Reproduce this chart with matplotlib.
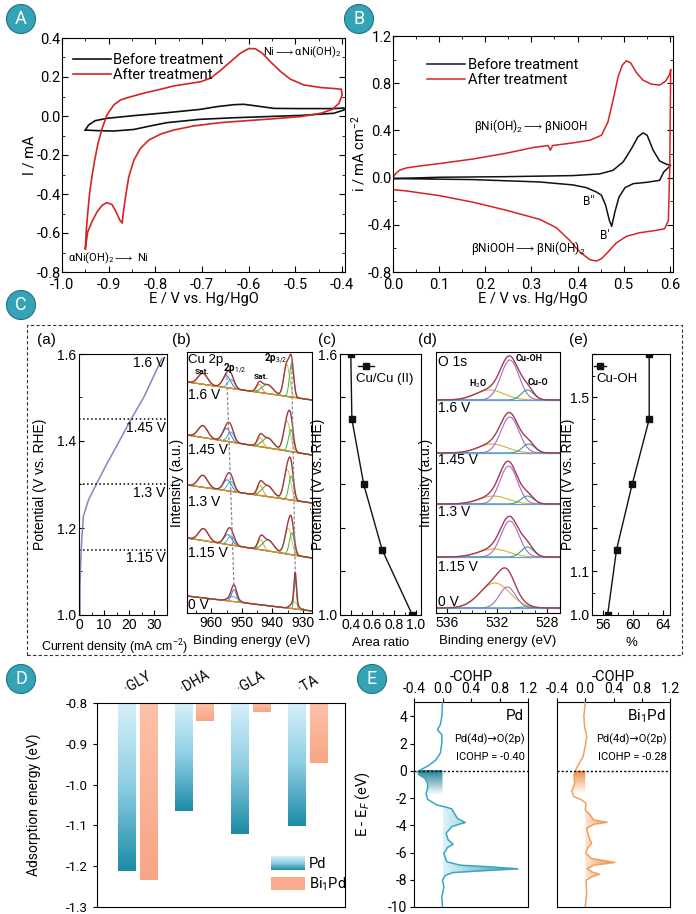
import numpy as np
import matplotlib
matplotlib.use("Agg")
import matplotlib.pyplot as plt
from matplotlib.patches import Ellipse, Rectangle, Patch
from matplotlib.colors import LinearSegmentedColormap
from matplotlib.path import Path
from matplotlib.legend_handler import HandlerBase
from matplotlib.image import BboxImage
from matplotlib.transforms import Bbox, TransformedBbox, blended_transform_factory
from matplotlib.ticker import MultipleLocator, FixedLocator, FixedFormatter

plt.rcParams['font.family'] = ['Roboto', 'DejaVu Sans']
plt.rcParams['mathtext.fontset'] = 'custom'
plt.rcParams['mathtext.rm'] = 'Roboto'
plt.rcParams['mathtext.it'] = 'Roboto:italic'
plt.rcParams['mathtext.bf'] = 'Roboto:bold'
plt.rcParams['mathtext.fallback'] = 'stixsans'
plt.rcParams['axes.unicode_minus'] = False

W, H = 696, 914
FC = ['Liberation Sans', 'DejaVu Sans']   # panel C looks like Arial

# ---------------- A : CV of Ni foam
a_before_E = [-0.950, -0.943, -0.929, -0.904, -0.846, -0.775, -0.704, -0.668, -0.632, -0.611,
              -0.582, -0.546, -0.489, -0.418, -0.396, -0.396, -0.418, -0.489, -0.561, -0.632,
              -0.704, -0.775, -0.811, -0.846, -0.889, -0.925, -0.950]
a_before_I = [-0.072, -0.046, -0.024, -0.012, 0.002, 0.017, 0.034, 0.048, 0.058, 0.060,
              0.051, 0.039, 0.038, 0.038, 0.041, 0.031, 0.014, 0.003, -0.003, -0.009,
              -0.017, -0.034, -0.051, -0.069, -0.077, -0.075, -0.072]
a_after_E = [-0.950, -0.948, -0.945, -0.941, -0.936, -0.930, -0.923, -0.914, -0.904, -0.889,
             -0.875, -0.857, -0.825, -0.789, -0.761, -0.732, -0.704, -0.682, -0.661, -0.639,
             -0.618, -0.600, -0.586, -0.571, -0.554, -0.532, -0.511, -0.482, -0.446, -0.418,
             -0.402, -0.400, -0.407, -0.421, -0.446, -0.489, -0.546, -0.604, -0.661, -0.718,
             -0.761, -0.789, -0.814, -0.832, -0.846, -0.857, -0.864, -0.869, -0.871, -0.876,
             -0.884, -0.893, -0.904, -0.914, -0.925, -0.936, -0.945, -0.950]
a_after_I = [-0.681, -0.586, -0.501, -0.398, -0.312, -0.226, -0.141, -0.063, 0.005, 0.057,
             0.082, 0.096, 0.117, 0.137, 0.154, 0.165, 0.175, 0.194, 0.233, 0.279,
             0.322, 0.346, 0.345, 0.322, 0.279, 0.228, 0.189, 0.159, 0.146, 0.141,
             0.137, 0.108, 0.065, 0.034, 0.014, -0.003, -0.014, -0.024, -0.034, -0.051,
             -0.072, -0.093, -0.123, -0.166, -0.226, -0.312, -0.415, -0.501, -0.549, -0.535,
             -0.492, -0.454, -0.444, -0.458, -0.492, -0.543, -0.595, -0.681]

# ---------------- B : CV in alkaline
b_before_E = [0.000, 0.101, 0.246, 0.390, 0.448, 0.477, 0.499, 0.517, 0.531, 0.542, 0.551,
              0.564, 0.578, 0.593, 0.602, 0.597, 0.587, 0.578, 0.550, 0.521, 0.503, 0.490,
              0.481, 0.474, 0.469, 0.461, 0.452, 0.441, 0.419, 0.390, 0.318, 0.174, 0.000]
b_before_i = [-0.008, 0.003, 0.008, 0.017, 0.031, 0.062, 0.133, 0.246, 0.345, 0.379, 0.359,
              0.232, 0.141, 0.113, 0.105, 0.085, 0.048, -0.023, -0.040, -0.051, -0.085, -0.164,
              -0.291, -0.413, -0.362, -0.235, -0.150, -0.122, -0.085, -0.062, -0.037, -0.017, -0.008]
b_after_E = [0.000, 0.006, 0.014, 0.029, 0.065, 0.101, 0.174, 0.246, 0.304, 0.336, 0.341,
             0.346, 0.390, 0.427, 0.452, 0.466, 0.477, 0.488, 0.497, 0.506, 0.515, 0.528,
             0.542, 0.560, 0.578, 0.591, 0.600, 0.602, 0.600, 0.597, 0.589, 0.571, 0.535,
             0.506, 0.484, 0.466, 0.452, 0.441, 0.427, 0.405, 0.383, 0.354, 0.318, 0.246,
             0.174, 0.101, 0.029, 0.000]
b_after_i = [0.000, 0.034, 0.062, 0.082, 0.102, 0.119, 0.158, 0.207, 0.255, 0.272, 0.232,
             0.272, 0.294, 0.317, 0.359, 0.472, 0.656, 0.854, 0.953, 0.990, 0.973, 0.888,
             0.826, 0.792, 0.784, 0.818, 0.877, 0.917, 0.091, -0.362, -0.433, -0.447, -0.467,
             -0.498, -0.554, -0.631, -0.687, -0.707, -0.696, -0.631, -0.532, -0.424, -0.354, -0.277,
             -0.209, -0.153, -0.113, -0.102]

# ---------------- C(a) : LSV
ca_j = [0.4, 0.4, 0.7, 1.1, 1.75, 3.8, 7.1, 11.2, 15.2, 20.6, 26.0, 33.0]
ca_E = [1.0, 1.065, 1.127, 1.173, 1.227, 1.265, 1.303, 1.349, 1.391, 1.449, 1.503, 1.59]
c_levels = [1.6, 1.45, 1.3, 1.15]
c_level_labels = ['1.6 V', '1.45 V', '1.3 V', '1.15 V']

# ---------------- C(b) : Cu 2p, peaks (centre eV, height, sigma) on a linear background
cu_labels = ['1.6 V', '1.45 V', '1.3 V', '1.15 V', '0 V']
cu_bg = [(231, 213), (178, 158), (128, 110), (75, 55), (17, 2)]   # at 968 eV / 927 eV
cu_peaks_16 = [(962.8, 11, 1.55), (955.0, 12, 1.3), (953.5, 9, 1.1), (944.3, 8, 0.9),
               (941.6, 9, 1.8), (935.3, 32, 0.95), (933.7, 33, 0.7)]
cu_peaks_145 = [(962.8, 12, 1.55), (955.0, 13, 1.3), (953.6, 10, 1.1), (944.0, 9, 0.9),
                (941.5, 10, 1.8), (935.2, 30, 1.1), (933.9, 22, 0.8)]
cu_peaks_13 = [(962.8, 12, 1.55), (954.8, 11, 1.3), (953.6, 10, 1.1), (944.0, 10, 0.9),
               (941.6, 11, 1.8), (935.1, 30, 1.1), (933.8, 24, 0.8)]
cu_peaks_115 = [(962.6, 12, 1.55), (954.6, 10, 1.3), (953.5, 9, 1.1), (943.8, 10, 0.9),
                (941.4, 11, 1.8), (934.8, 26, 1.1), (933.6, 22, 0.8)]
cu_peaks_0 = [(962.6, 0, 1.3), (952.6, 12, 0.8), (952.9, 5, 1.5), (943.8, 0, 0.8),
              (941.4, 0, 1.5), (932.8, 7, 1.1), (932.5, 30, 0.4)]

# ---------------- C(c) / C(e)
cc_ratio = [0.40, 0.41, 0.52, 0.69, 0.97]
cc_pot = [1.6, 1.45, 1.3, 1.15, 1.0]
ce_pct = [56.6, 57.8, 59.9, 62.2, 62.2]
ce_pot = [1.0, 1.15, 1.3, 1.45, 1.6]

# ---------------- C(d) : O 1s, peaks H2O, Cu-OH, Cu-O
o_labels = ['1.6 V', '1.45 V', '1.3 V', '1.15 V', '0 V']
o_bg = [213, 160, 109, 56, 5]
o_peaks_16 = [(532.6, 10, 1.15), (531.0, 40, 0.72), (529.6, 10, 0.5)]
o_peaks_145 = [(532.4, 9, 1.15), (531.0, 36, 0.72), (529.5, 9, 0.5)]
o_peaks_13 = [(532.3, 8, 1.15), (531.1, 38, 0.7), (529.6, 8, 0.5)]
o_peaks_115 = [(532.3, 8, 1.2), (531.0, 36, 0.72), (529.6, 10, 0.5)]
o_peaks_0 = [(532.2, 25, 1.2), (531.2, 21, 0.65), (529.8, 1, 0.5)]

# ---------------- D : adsorption energy
d_species = ['·GLY', '·DHA', '·GLA', '·TA']
d_pd = [-1.211, -1.064, -1.122, -1.102]
d_bipd = [-1.234, -0.845, -0.823, -0.946]

# ---------------- E : -COHP
pd_cohp = [0.00, -0.01, -0.03, -0.07, -0.01, -0.01, -0.03, -0.10, -0.20, -0.29, -0.35, -0.33,
           -0.25, -0.21, -0.21, -0.23, -0.21, -0.08, 0.06, 0.13, 0.18, 0.21, 0.29, 0.32, 0.25,
           0.13, 0.05, 0.08, 0.15, 0.07, 0.02, 0.06, 0.25, 0.67, 1.06, 0.53, 0.15, 0.04, 0.00,
           0.02, -0.01, 0.00]
pd_E = [5.0, 4.0, 3.39, 3.02, 2.65, 2.04, 1.30, 0.76, 0.37, 0.12, -0.05, -0.30,
        -0.54, -0.91, -1.28, -1.65, -2.09, -2.51, -2.68, -2.80, -3.24, -3.49, -3.73, -3.80, -3.90,
        -4.10, -4.59, -5.08, -5.38, -5.63, -6.07, -6.68, -6.93, -7.05, -7.20, -7.35, -7.47, -7.67, -8.03,
        -8.52, -9.26, -10.0]
bi_cohp = [0.00, -0.02, -0.01, 0.02, 0.00, -0.03, -0.11, -0.14, -0.16, -0.15, -0.19, -0.16,
           -0.05, 0.01, 0.00, 0.07, 0.12, 0.31, 0.12, 0.02, 0.05, 0.09, 0.03, 0.01, 0.09, 0.42,
           0.12, 0.03, 0.09, 0.20, 0.09, 0.01, 0.02, 0.00]
bi_E = [5.0, 4.0, 3.27, 2.53, 1.79, 1.06, 0.32, 0.0, -0.30, -0.91, -1.52, -1.89,
        -2.14, -2.38, -2.87, -3.24, -3.61, -3.78, -3.93, -4.22, -4.84, -5.33, -5.70, -6.07, -6.44, -6.73,
        -6.93, -7.17, -7.42, -7.59, -7.79, -8.03, -9.02, -10.0]

ARROW = r'$\longrightarrow$'


def px_axes(fig, l, t, r, b):
    return fig.add_axes([l / W, 1 - b / H, (r - l) / W, (b - t) / H])


def gauss(x, c, h, s):
    return h * np.exp(-(x - c) ** 2 / (2 * s * s))


def badge(fig, cx, cy, letter):
    fig.patches.append(Ellipse((cx / W, 1 - cy / H), 29 / W, 29 / H, transform=fig.transFigure,
                               fc='#34a3b6', ec='#1d7484', lw=0.8, figure=fig))
    fig.text(cx / W, 1 - cy / H, letter, color='white', fontsize=13, ha='center', va='center')


class GradientHandler(HandlerBase):
    def __init__(self, cmap):
        super().__init__()
        self.cmap = cmap

    def create_artists(self, legend, orig_handle, xdescent, ydescent, width, height, fontsize, trans):
        bb = Bbox.from_bounds(-xdescent, -ydescent, width, height)
        img = BboxImage(TransformedBbox(bb, trans), cmap=self.cmap, interpolation='bilinear')
        img.set_data(np.linspace(0, 1, 64).reshape(-1, 1))
        return [img]


fig = plt.figure(figsize=(W / 100, H / 100), dpi=100, facecolor='white')

# ====================== A
ax = px_axes(fig, 62, 38, 345, 272)
ax.plot(a_before_E, a_before_I, color='#111111', lw=1.2, label='Before treatment')
ax.plot(a_after_E, a_after_I, color='#d42424', lw=1.2, label='After treatment')
ax.set_xlim(-1.0, -0.394)
ax.set_ylim(-0.8, 0.4)
ax.xaxis.set_major_locator(MultipleLocator(0.1))
ax.xaxis.set_minor_locator(MultipleLocator(0.05))
ax.yaxis.set_major_locator(MultipleLocator(0.2))
ax.yaxis.set_minor_locator(MultipleLocator(0.1))
ax.xaxis.set_major_formatter(plt.FuncFormatter(lambda v, p: f'{v:.1f}'))
ax.yaxis.set_major_formatter(plt.FuncFormatter(lambda v, p: f'{v:.1f}'))
ax.tick_params(which='both', direction='in', top=True, right=True, labelsize=10.5)
ax.tick_params(axis='x', pad=4)
ax.tick_params(axis='y', pad=1)
ax.tick_params(which='major', length=4)
ax.tick_params(which='minor', length=2)
ax.set_xlabel('E / V vs. Hg/HgO', fontsize=10.5, labelpad=0)
ax.set_ylabel('I / mA', fontsize=10.5, labelpad=0)
ax.legend(loc='upper left', bbox_to_anchor=(0.02, 0.96), frameon=False, fontsize=10.5,
          handlelength=2.6, handletextpad=0.1, labelspacing=0.05, borderaxespad=0)
ax.text(0.71, 0.94, 'Ni' + ARROW + 'αNi(OH)$_2$', transform=ax.transAxes, fontsize=8, va='center')
ax.text(0.02, 0.06, 'αNi(OH)$_2$' + ARROW + ' Ni', transform=ax.transAxes, fontsize=8, va='center')

# ====================== B
ax = px_axes(fig, 393, 36, 673, 272)
ax.plot(b_before_E, b_before_i, color='#111111', lw=1.1, label='Before treatment')
ax.plot(b_after_E, b_after_i, color='#d42424', lw=1.1, label='After treatment')
ax.set_xlim(0, 0.607)
ax.set_ylim(-0.8, 1.2)
ax.xaxis.set_major_locator(MultipleLocator(0.1))
ax.xaxis.set_minor_locator(MultipleLocator(0.05))
ax.yaxis.set_major_locator(MultipleLocator(0.4))
ax.yaxis.set_minor_locator(MultipleLocator(0.2))
ax.xaxis.set_major_formatter(plt.FuncFormatter(lambda v, p: f'{v:.1f}'))
ax.yaxis.set_major_formatter(plt.FuncFormatter(lambda v, p: f'{v:.1f}'))
ax.tick_params(which='both', direction='in', top=True, right=True, labelsize=10.5)
ax.tick_params(axis='x', pad=4)
ax.tick_params(axis='y', pad=1)
ax.tick_params(which='major', length=4)
ax.tick_params(which='minor', length=2)
ax.set_xlabel('E / V vs. Hg/HgO', fontsize=10.5, labelpad=0)
ax.set_ylabel('i / mA cm$^{-2}$', fontsize=10.5, labelpad=0)
ax.legend(loc='upper left', bbox_to_anchor=(0.1, 0.93), frameon=False, fontsize=10.5,
          handlelength=2.6, handletextpad=0.2, labelspacing=0.05, borderaxespad=0)
ax.text(0.29, 0.62, 'βNi(OH)$_2$' + ARROW + 'βNiOOH', transform=ax.transAxes, fontsize=8.5, va='center')
ax.text(0.28, 0.10, 'βNiOOH' + ARROW + 'βNi(OH)$_2$', transform=ax.transAxes, fontsize=8.5, va='center')
ax.text(0.68, 0.30, "B''", transform=ax.transAxes, fontsize=8.5, va='center')
ax.text(0.74, 0.155, "B'", transform=ax.transAxes, fontsize=8.5, va='center')

# ====================== C frame and sub-labels
fig.patches.append(Rectangle((27 / W, 1 - 655 / H), (682 - 27) / W, (655 - 325) / H,
                             transform=fig.transFigure, fill=False, ls=(0, (3, 2)),
                             lw=0.8, ec='#333333', figure=fig))
for lab, xp in zip(['(a)', '(b)', '(c)', '(d)', '(e)'], [37, 172, 318, 418, 569]):
    fig.text(xp / W, 1 - 340 / H, lab, fontsize=11, family=FC, va='center')


def style_c(ax):
    ax.tick_params(which='both', direction='in', labelsize=10, pad=2, labelfontfamily=FC)
    ax.tick_params(which='major', length=3.5)
    ax.tick_params(which='minor', length=2)


# (a)
ax = px_axes(fig, 79, 354, 167, 615)
ax.plot(ca_j, ca_E, color='#8f80c0', lw=1.1)
for lev, lab in zip(c_levels, c_level_labels):
    if lev < 1.6:
        ax.axhline(lev, color='k', ls=':', lw=1.1)
    ax.text(0.985, lev - 0.02, lab, transform=blended_transform_factory(ax.transAxes, ax.transData),
            ha='right', va='center', fontsize=10, family=FC)
ax.set_xlim(0, 35)
ax.set_ylim(1.0, 1.6)
ax.xaxis.set_major_locator(MultipleLocator(10))
ax.xaxis.set_minor_locator(MultipleLocator(5))
ax.yaxis.set_major_locator(MultipleLocator(0.2))
ax.yaxis.set_minor_locator(MultipleLocator(0.1))
ax.yaxis.set_major_formatter(plt.FuncFormatter(lambda v, p: f'{v:.1f}'))
style_c(ax)
ax.set_ylabel('Potential (V vs. RHE)', fontsize=10, family=FC)
ax.yaxis.set_label_coords(-0.36, 0.5)
ax.set_xlabel('Current density (mA cm$^{-2}$)', fontsize=9, family=FC)
ax.xaxis.set_label_coords(0.4, -0.085)

# (b)
ax = px_axes(fig, 187, 352, 312, 613)
be = np.linspace(968, 927, 400)
cu_all = [cu_peaks_16, cu_peaks_145, cu_peaks_13, cu_peaks_115, cu_peaks_0]
cu_colors = ['#e8872e', '#3f6fd8', '#35b8cc', '#d9a526', '#4a9a48', '#d8c040', '#3fae5a']
tops = []
for peaks, (bl, br), lab in zip(cu_all, cu_bg, cu_labels):
    bg = np.interp(be, [927, 968], [br, bl])
    total = bg.copy()
    for (c, h, s), col in zip(peaks, cu_colors):
        if h <= 0:
            continue
        comp = gauss(be, c, h, s)
        total += comp
        ax.plot(be, bg + comp, color=col, lw=0.7)
    ax.plot(be, bg, color='#d98a2c', lw=1.0)
    ax.plot(be, total, color='#9b3a3e', lw=1.0)
    tops.append(total)
# guide lines through the 2p1/2 and 2p3/2 maxima
for k in (1, 6):
    xs = [cu_peaks_16[k][0], cu_peaks_0[k][0]]
    ys = [np.interp(xs[0], be[::-1], tops[0][::-1]), np.interp(xs[1], be[::-1], tops[-1][::-1])]
    ax.plot(xs, ys, color='#8a8a9a', ls=(0, (2.5, 1.5)), lw=0.9)
for lab, yp in zip(cu_labels, [395, 450, 502, 553, 605]):
    ax.text(0.01, (613 - yp) / 261, lab, transform=ax.transAxes, fontsize=10, family=FC, va='center')
ax.text(0.01, 0.97, 'Cu 2p', transform=ax.transAxes, fontsize=9.5, family=FC, va='center')
ax.text(0.29, 0.935, '2p$_{1/2}$', transform=ax.transAxes, fontsize=7, va='center', fontweight='bold')
ax.text(0.06, 0.925, 'Sat.', transform=ax.transAxes, fontsize=6, va='center', fontweight='bold')
ax.text(0.535, 0.905, 'Sat.', transform=ax.transAxes, fontsize=6, va='center', fontweight='bold')
ax.text(0.62, 0.975, '2p$_{3/2}$', transform=ax.transAxes, fontsize=7, va='center', fontweight='bold')
ax.set_xlim(968, 927)
ax.set_ylim(0, 261)
ax.set_yticks([])
ax.xaxis.set_major_locator(MultipleLocator(10))
ax.xaxis.set_minor_locator(MultipleLocator(5))
style_c(ax)
ax.set_ylabel('Intensity (a.u.)', fontsize=10, family=FC, labelpad=2)
ax.set_xlabel('Binding energy (eV)', fontsize=9.5, family=FC)
ax.xaxis.set_label_coords(0.52, -0.085)

# (c)
ax = px_axes(fig, 340, 354, 421, 615)
ax.plot(cc_ratio, cc_pot, color='#111111', lw=1.0, marker='s', ms=4.5)
ax.plot([0.22, 0.32, 0.42], [0.955] * 3, color='#111111', lw=1.0, marker='s', ms=4,
        markevery=[1], transform=ax.transAxes)
ax.text(0.2, 0.905, 'Cu/Cu (II)', transform=ax.transAxes, fontsize=9.5, family=FC, va='center')
ax.set_xlim(0.3, 1.05)
ax.set_ylim(1.0, 1.6)
ax.xaxis.set_major_locator(MultipleLocator(0.2))
ax.xaxis.set_minor_locator(MultipleLocator(0.1))
ax.yaxis.set_major_locator(FixedLocator([1.0, 1.1, 1.2, 1.3, 1.4, 1.5, 1.6]))
ax.yaxis.set_major_formatter(FixedFormatter(['1.0', '', '', '', '', '', '1.6']))
ax.xaxis.set_major_formatter(plt.FuncFormatter(lambda v, p: f'{v:.1f}'))
style_c(ax)
ax.set_ylabel('Potential (V vs. RHE)', fontsize=10, family=FC)
ax.yaxis.set_label_coords(-0.19, 0.5)
ax.set_xlabel('Area ratio', fontsize=9.5, family=FC)
ax.xaxis.set_label_coords(0.5, -0.085)

# (d)
ax = px_axes(fig, 436, 352, 560, 613)
be_o = np.linspace(536.9, 527, 300)
o_all = [o_peaks_16, o_peaks_145, o_peaks_13, o_peaks_115, o_peaks_0]
o_colors = ['#d6b23c', '#a66cc4', '#3a9a88']
for peaks, base in zip(o_all, o_bg):
    bg = np.full_like(be_o, base, dtype=float)
    total = bg.copy()
    for (c, h, s), col in zip(peaks, o_colors):
        comp = gauss(be_o, c, h, s)
        total += comp
        ax.plot(be_o, bg + comp, color=col, lw=0.8)
    ax.plot(be_o, bg, color='#6a9fd8', lw=0.9)
    ax.plot(be_o, total, color='#a23c52', lw=1.0)
for lab, yp in zip(o_labels, [408, 460, 512, 567, 602]):
    ax.text(0.02, (613 - yp) / 261, lab, transform=ax.transAxes, fontsize=10, family=FC, va='center')
ax.text(0.02, 0.96, 'O 1s', transform=ax.transAxes, fontsize=10, family=FC, va='center')
ax.text(0.27, 0.88, 'H$_2$O', transform=ax.transAxes, fontsize=6.5, va='center', fontweight='bold')
ax.text(0.64, 0.975, 'Cu-OH', transform=ax.transAxes, fontsize=6.5, va='center', fontweight='bold')
ax.text(0.74, 0.885, 'Cu-O', transform=ax.transAxes, fontsize=6.5, va='center', fontweight='bold')
ax.set_xlim(536.9, 527)
ax.set_ylim(0, 261)
ax.set_yticks([])
ax.xaxis.set_major_locator(MultipleLocator(4))
ax.xaxis.set_minor_locator(MultipleLocator(1))
style_c(ax)
ax.set_ylabel('Intensity (a.u.)', fontsize=10, family=FC, labelpad=2)
ax.set_xlabel('Binding energy (eV)', fontsize=9.5, family=FC)
ax.xaxis.set_label_coords(0.5, -0.085)

# (e)
ax = px_axes(fig, 592, 354, 670, 615)
ax.plot(ce_pct, ce_pot, color='#111111', lw=1.0, marker='s', ms=4.5)
ax.plot([0.02, 0.1, 0.18], [0.955] * 3, color='#111111', lw=1.0, marker='s', ms=4,
        markevery=[1], transform=ax.transAxes)
ax.text(0.05, 0.905, 'Cu-OH', transform=ax.transAxes, fontsize=9.5, family=FC, va='center')
ax.set_xlim(54.5, 65)
ax.set_ylim(1.0, 1.6)
ax.xaxis.set_major_locator(MultipleLocator(4))
ax.xaxis.set_minor_locator(MultipleLocator(2))
ax.yaxis.set_major_locator(FixedLocator([1.0, 1.1, 1.2, 1.3, 1.4, 1.5, 1.6]))
ax.yaxis.set_major_formatter(FixedFormatter(['1.0', '1.1', '', '', '', '1.5', '']))
ax.yaxis.set_minor_locator(MultipleLocator(0.05))
style_c(ax)
ax.set_ylabel('Potential (V vs. RHE)', fontsize=10, family=FC)
ax.yaxis.set_label_coords(-0.22, 0.5)
ax.set_xlabel('%', fontsize=9.5, family=FC)
ax.xaxis.set_label_coords(0.5, -0.085)

# ====================== D
pd_cmap = LinearSegmentedColormap.from_list('pd', ['#d7f0f9', '#8ccde3', '#1c8ba6'])
bi_cmap = LinearSegmentedColormap.from_list('bi', ['#fcc2aa', '#f8a584'])
ax = px_axes(fig, 97, 703, 345, 907)
xg = np.arange(len(d_species))
grad = np.linspace(0, 1, 128).reshape(-1, 1)
for vals, off, cmap in [(d_pd, -0.19, pd_cmap), (d_bipd, 0.19, bi_cmap)]:
    bars = ax.bar(xg + off, np.array(vals) + 0.8, bottom=-0.8, width=0.31,
                  color='none', edgecolor='none')
    for b, v in zip(bars, vals):
        x0 = b.get_x()
        im = ax.imshow(grad, cmap=cmap, extent=[x0, x0 + b.get_width(), v, -0.8],
                       aspect='auto', origin='upper', zorder=2, interpolation='bilinear')
        im.set_clip_path(b)
ax.set_xlim(-0.72, 3.66)
ax.set_ylim(-1.3, -0.8)
ax.set_aspect('auto')
ax.yaxis.set_major_locator(MultipleLocator(0.1))
ax.yaxis.set_major_formatter(plt.FuncFormatter(lambda v, p: f'{v:.1f}'))
ax.xaxis.tick_top()
ax.set_xticks(xg)
ax.set_xticklabels(d_species, rotation=30, fontsize=10, ha='center')
ax.tick_params(axis='x', length=0, pad=5)
ax.tick_params(axis='y', direction='out', labelsize=9.5, length=3)
ax.set_ylabel('Adsorption energy (eV)', fontsize=10)
ax.yaxis.set_label_coords(-0.22, 0.5)
pd_handle = Patch(label='Pd')
bi_handle = Patch(facecolor='#f9ab8d', label='Bi$_1$Pd')
ax.legend(handles=[pd_handle, bi_handle], handler_map={pd_handle: GradientHandler(pd_cmap)},
          loc='lower left', bbox_to_anchor=(0.68, 0.04), frameon=False, fontsize=10.5,
          handlelength=2.3, handleheight=1.0, labelspacing=0.3, handletextpad=0.25, borderaxespad=0)

# ====================== E
e_sets = [
    (414, 528, pd_cohp, pd_E, '#3aa6c0', ['#1f7f98', '#ffffff'], ['#dcf2f9', '#2a96b0'], 1.8, 1.1,
     'Pd', 'ICOHP = -0.40'),
    (557, 670, bi_cohp, bi_E, '#f0a060', ['#ef8a42', '#ffffff'], ['#fde6d6', '#ee8440'], 1.7, 0.45,
     'Bi$_1$Pd', 'ICOHP = -0.28'),
]
for i, (l, r, xs, ys, col, lobe_cols, low_cols, lobe_depth, low_w, name, icohp) in enumerate(e_sets):
    ax = px_axes(fig, l, 702, r, 907)
    xs = np.array(xs)
    ys = np.array(ys)
    coll = ax.fill_betweenx(ys, xs, 0, where=ys <= 0.15, facecolor='none', edgecolor='none')
    clip = Path.make_compound_path(*coll.get_paths())
    im1 = ax.imshow(np.linspace(0, 1, 64).reshape(-1, 1),
                    cmap=LinearSegmentedColormap.from_list('l%d' % i, lobe_cols),
                    extent=[-0.4, 0, -lobe_depth, 0], aspect='auto', origin='upper',
                    interpolation='bilinear', zorder=1)
    im1.set_clip_path(clip, ax.transData)
    im2 = ax.imshow(np.linspace(0, 1, 64).reshape(1, -1),
                    cmap=LinearSegmentedColormap.from_list('h%d' % i, low_cols),
                    extent=[0, low_w, -7.9, -2.4], aspect='auto', origin='upper',
                    interpolation='bilinear', zorder=1)
    im2.set_clip_path(clip, ax.transData)
    ax.plot(xs, ys, color=col, lw=1.1, zorder=3)
    ax.axhline(0, color='k', ls=(0, (1.5, 1.5)), lw=1.0, zorder=4)
    ax.set_xlim(-0.4, 1.2)
    ax.set_ylim(-10, 5.05)
    ax.set_aspect('auto')
    ax.xaxis.tick_top()
    ax.xaxis.set_label_position('top')
    ax.set_xticks([-0.4, 0.0, 0.4, 0.8, 1.2])
    ax.xaxis.set_major_formatter(plt.FuncFormatter(lambda v, p: f'{v:.1f}'))
    ax.tick_params(axis='x', direction='out', labelsize=10, length=3, pad=1)
    ax.set_xlabel('-COHP', fontsize=10.5, labelpad=1)
    if i == 0:
        ax.set_yticks(np.arange(-10, 5, 2))
        ax.tick_params(axis='y', direction='out', labelsize=10, length=3, pad=2)
        ax.set_ylabel('E - E$_F$ (eV)', fontsize=10.5)
        ax.yaxis.set_label_coords(-0.37, 0.5)
    else:
        ax.set_yticks([])
    ax.text(0.96, 0.93, name, transform=ax.transAxes, ha='right', va='center', fontsize=11)
    ax.text(0.97, 0.82, 'Pd(4d)→O(2p)', transform=ax.transAxes, ha='right', va='center', fontsize=8)
    ax.text(0.97, 0.73, icohp, transform=ax.transAxes, ha='right', va='center', fontsize=8)

badge(fig, 21, 19, 'A')
badge(fig, 359, 19, 'B')
badge(fig, 21, 305, 'C')
badge(fig, 21, 679, 'D')
badge(fig, 372, 679, 'E')

fig.savefig('out.png', dpi=100, facecolor='white')
